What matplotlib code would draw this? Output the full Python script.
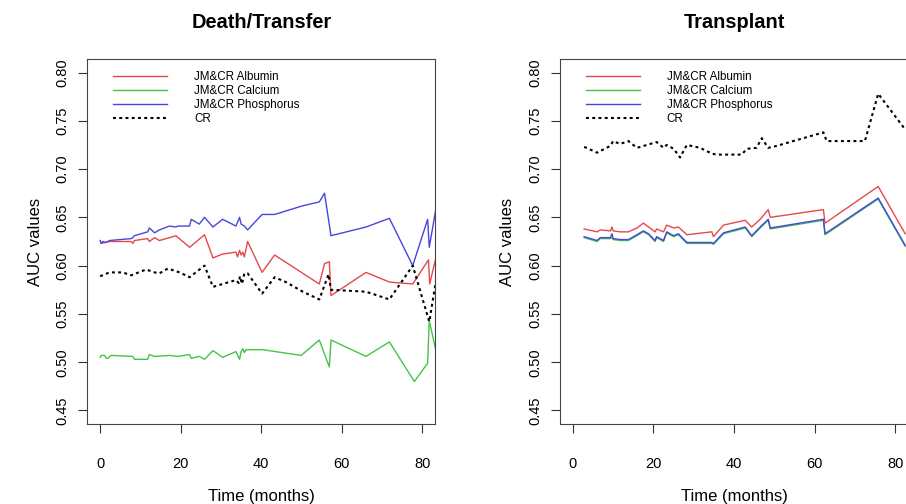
import matplotlib
matplotlib.use('Agg')
import matplotlib.pyplot as plt

plt.rcParams['font.family'] = ['Liberation Sans', 'DejaVu Sans']

# ── Data ──────────────────────────────────────────────────────────────────────

series_labels = ['JM&CR Albumin', 'JM&CR Calcium', 'JM&CR Phosphorus', 'CR']
panel_titles = ['Death/Transfer', 'Transplant']

# Death/Transfer
dt_alb_t = [0.2, 2.3, 7.7, 8.1, 8.5, 11.8, 12.2, 13.5, 14.7, 17.2, 18.8, 22.2,
            25.9, 28.0, 30.4, 33.7, 34.1, 34.6, 35.0, 35.4, 35.8, 36.6, 40.2,
            43.3, 54.4, 55.7, 56.9, 57.3, 66.0, 71.8, 77.6, 81.5, 81.8, 83.4]
dt_alb_v = [0.623, 0.625, 0.625, 0.623, 0.626, 0.628, 0.625, 0.629, 0.626,
            0.629, 0.631, 0.619, 0.632, 0.608, 0.612, 0.614, 0.609, 0.616,
            0.611, 0.614, 0.609, 0.625, 0.593, 0.611, 0.581, 0.602, 0.604,
            0.569, 0.593, 0.583, 0.581, 0.606, 0.581, 0.609]

dt_cal_t = [0.0, 0.24, 1.1, 1.5, 1.9, 2.7, 8.1, 8.5, 11.8, 12.2, 13.5, 17.2,
            19.3, 22.2, 22.6, 24.6, 25.9, 28.0, 30.4, 33.7, 34.6, 35.0, 35.4,
            35.8, 36.2, 40.3, 49.9, 54.4, 56.9, 57.3, 66.0, 71.8, 78.0, 81.3,
            81.7, 83.4]
dt_cal_v = [0.505, 0.507, 0.507, 0.504, 0.504, 0.507, 0.506, 0.503, 0.503,
            0.508, 0.506, 0.507, 0.506, 0.508, 0.504, 0.506, 0.503, 0.512,
            0.505, 0.511, 0.503, 0.511, 0.514, 0.510, 0.513, 0.513, 0.507,
            0.523, 0.495, 0.523, 0.506, 0.521, 0.480, 0.499, 0.543, 0.511]

dt_pho_t = [0.0, 0.24, 0.65, 1.5, 2.3, 7.7, 8.1, 8.5, 11.8, 12.2, 13.5, 14.7,
            17.2, 18.8, 19.3, 22.2, 22.6, 24.6, 25.9, 28.0, 30.4, 33.7, 34.6,
            35.0, 35.8, 36.6, 40.2, 43.3, 50.3, 54.4, 55.7, 57.3, 66.0, 71.8,
            77.6, 81.3, 81.7, 83.4]
dt_pho_v = [0.626, 0.623, 0.625, 0.624, 0.626, 0.628, 0.629, 0.631, 0.635,
            0.639, 0.634, 0.637, 0.641, 0.640, 0.641, 0.641, 0.648, 0.643,
            0.650, 0.640, 0.648, 0.641, 0.650, 0.643, 0.641, 0.637, 0.653,
            0.653, 0.662, 0.666, 0.675, 0.631, 0.640, 0.649, 0.600, 0.648,
            0.619, 0.660]

dt_cr_t = [0.0, 2.3, 5.6, 7.7, 8.9, 11.4, 13.5, 14.7, 16.8, 19.7, 22.2, 25.9,
           28.0, 30.4, 33.7, 34.4, 34.7, 35.2, 35.8, 36.6, 40.2, 43.3, 46.1,
           50.3, 54.4, 56.7, 57.3, 66.0, 71.8, 77.6, 81.7, 83.4]
dt_cr_v = [0.589, 0.593, 0.593, 0.590, 0.592, 0.596, 0.593, 0.592, 0.597,
           0.593, 0.588, 0.600, 0.578, 0.581, 0.585, 0.582, 0.589, 0.581,
           0.592, 0.592, 0.571, 0.588, 0.583, 0.573, 0.565, 0.591, 0.575,
           0.573, 0.565, 0.600, 0.542, 0.585]

# Transplant
tx_t = [2.8, 6.0, 6.8, 9.3, 9.7, 10.0, 11.7, 13.8, 15.9, 17.5, 18.8, 20.4,
        20.8, 22.5, 23.3, 25.0, 26.2, 28.3, 34.5, 34.9, 37.4, 42.8, 44.4,
        46.5, 48.5, 49.0, 62.2, 62.6, 75.8, 82.5]
tx_alb_v = [0.638, 0.635, 0.637, 0.636, 0.640, 0.636, 0.635, 0.635, 0.639,
            0.644, 0.640, 0.635, 0.638, 0.635, 0.642, 0.639, 0.640, 0.632,
            0.635, 0.630, 0.642, 0.647, 0.640, 0.648, 0.658, 0.650, 0.658,
            0.644, 0.682, 0.633]
tx_pho_v = [0.630, 0.626, 0.629, 0.629, 0.633, 0.628, 0.627, 0.627, 0.632,
            0.636, 0.633, 0.626, 0.630, 0.626, 0.635, 0.631, 0.633, 0.624,
            0.624, 0.623, 0.634, 0.640, 0.631, 0.640, 0.648, 0.639, 0.648,
            0.633, 0.670, 0.621]
tx_cal_v = [0.629, 0.625, 0.628, 0.628, 0.629, 0.627, 0.626, 0.626, 0.631,
            0.635, 0.632, 0.625, 0.629, 0.625, 0.634, 0.630, 0.632, 0.623,
            0.623, 0.622, 0.633, 0.639, 0.630, 0.639, 0.647, 0.638, 0.647,
            0.632, 0.669, 0.620]

tx_cr_t = [2.8, 6.0, 9.3, 10.0, 11.7, 13.8, 15.9, 18.4, 20.8, 22.5, 23.3,
           25.0, 26.6, 28.3, 31.6, 34.5, 35.7, 41.9, 43.2, 45.6, 46.9, 48.5,
           50.6, 54.7, 62.2, 63.0, 72.5, 75.8, 82.5]
tx_cr_v = [0.723, 0.717, 0.724, 0.729, 0.726, 0.729, 0.722, 0.725, 0.728,
           0.722, 0.725, 0.721, 0.712, 0.725, 0.722, 0.716, 0.715, 0.715,
           0.721, 0.722, 0.732, 0.722, 0.724, 0.729, 0.738, 0.729, 0.729,
           0.778, 0.741]

y_ticks = [0.45, 0.50, 0.55, 0.60, 0.65, 0.70, 0.75, 0.80]
x_ticks = [0, 20, 40, 60, 80]

COL_ALB = '#E5484C'
COL_CAL = '#45C545'
COL_PHO = '#4646DE'

# ── Figure ────────────────────────────────────────────────────────────────────

W, H = 906, 504
fig = plt.figure(figsize=(W / 100, H / 100), dpi=100)

ax_l = fig.add_axes([87.3 / W, (H - 424) / H, 348 / W, 365 / H])
ax_r = fig.add_axes([560 / W, (H - 424) / H, 348 / W, 365 / H])

panels = [
    (ax_l, [(dt_alb_t, dt_alb_v, COL_ALB), (dt_cal_t, dt_cal_v, COL_CAL),
            (dt_pho_t, dt_pho_v, COL_PHO)], (dt_cr_t, dt_cr_v)),
    (ax_r, [(tx_t, tx_alb_v, COL_ALB), (tx_t, tx_cal_v, COL_CAL),
            (tx_t, tx_pho_v, COL_PHO)], (tx_cr_t, tx_cr_v)),
]

for (ax, jm, cr), title in zip(panels, panel_titles):
    for (t, v, c), lab in zip(jm, series_labels[:3]):
        ax.plot(t, v, color=c, lw=1.0, label=lab)
    ax.plot(cr[0], cr[1], color='black', lw=1.5, dashes=(1.4, 1.6),
            label=series_labels[3])

    ax.set_xlim(-3.2, 83.2)
    ax.set_ylim(0.436, 0.814)
    ax.set_xticks(x_ticks)
    ax.set_yticks(y_ticks)
    ax.set_yticklabels([f'{y:.2f}' for y in y_ticks], rotation=90,
                       va='center')
    ax.tick_params(axis='both', direction='out', length=6.5, width=0.8,
                   color='#333333', labelsize=10.5)
    ax.tick_params(axis='x', pad=17)
    ax.tick_params(axis='y', pad=6.5)
    for sp in ax.spines.values():
        sp.set_color('#444444')
        sp.set_linewidth(0.8)

    ax.set_xlabel('Time (months)', fontsize=12, labelpad=13)
    ax.set_ylabel('AUC values', fontsize=12, labelpad=9)
    ax.set_title(title, fontsize=14.4, fontweight='bold', pad=22.5)

    ax.legend(loc='upper left', bbox_to_anchor=(0.075, 0.966),
              frameon=False, fontsize=8.4, handlelength=4.6,
              handletextpad=2.3, labelspacing=0.17, borderpad=0,
              borderaxespad=0)

fig.savefig('out.png', dpi=100)
